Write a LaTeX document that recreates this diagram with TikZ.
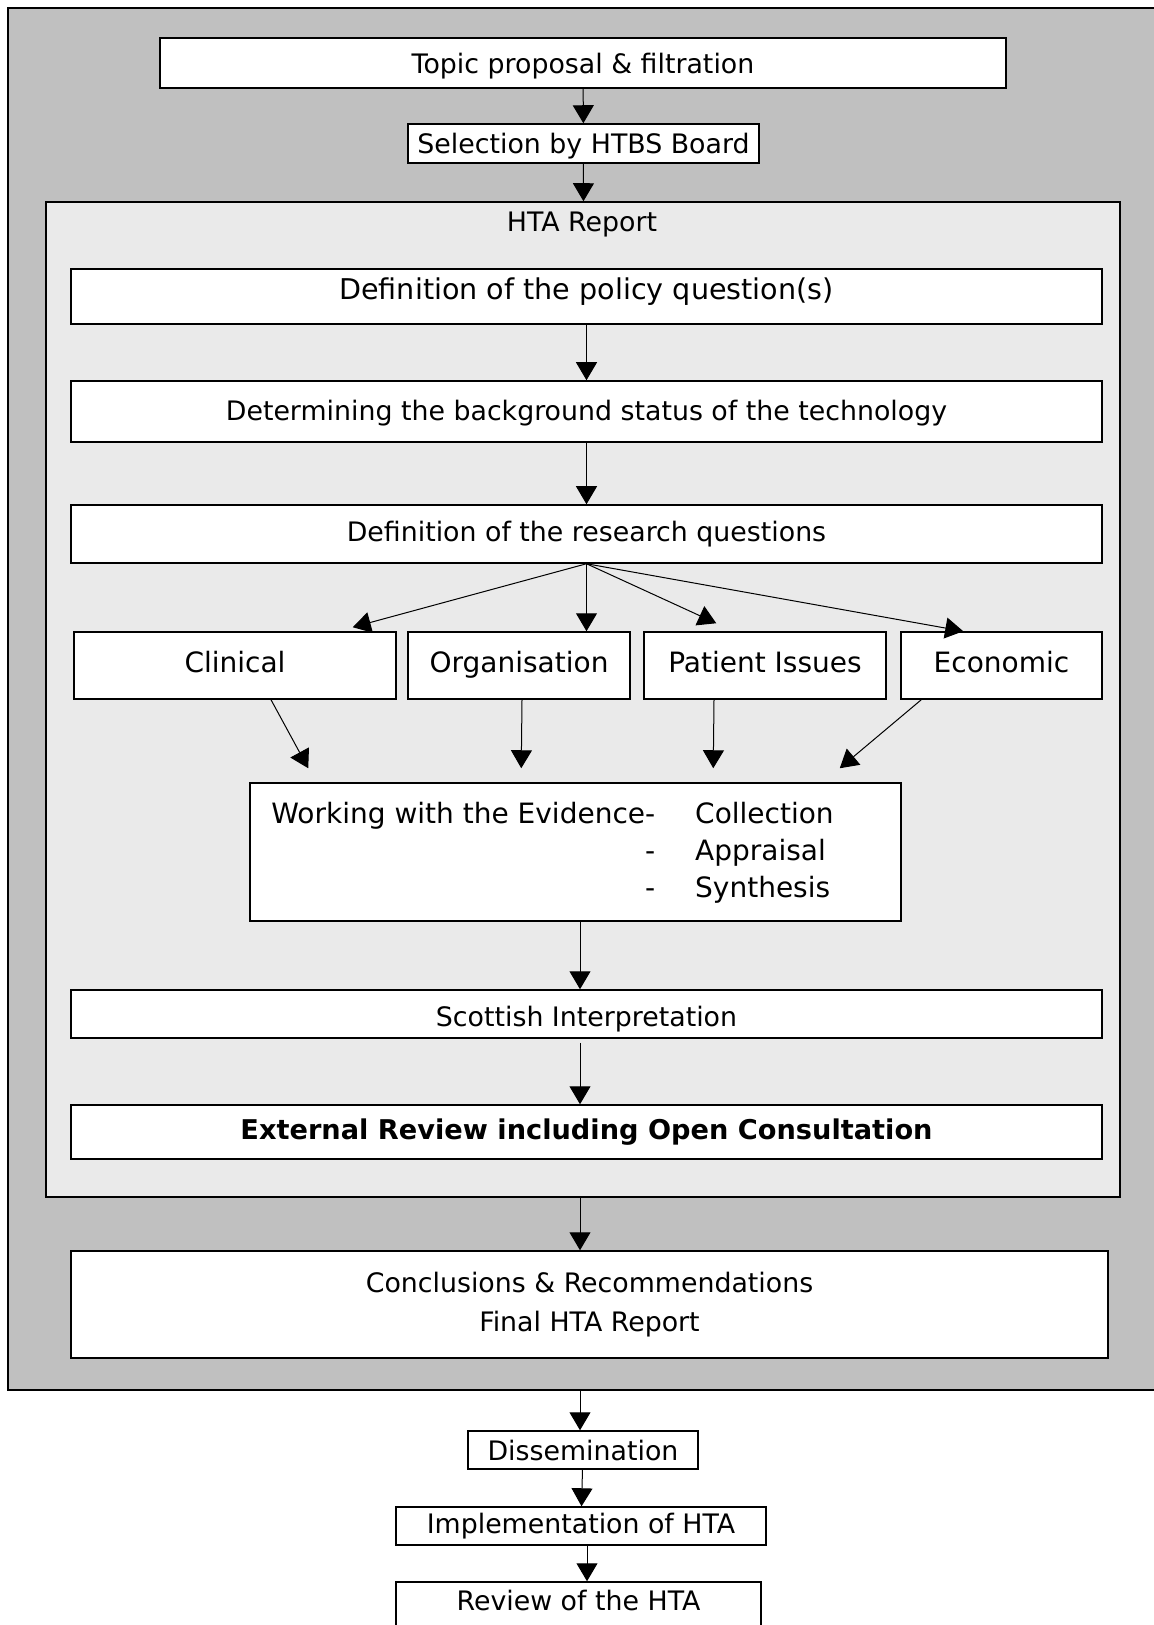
\documentclass[tikz,border=0pt]{standalone}
\usepackage{fontspec}
\setmainfont{DejaVu Sans}
\usetikzlibrary{arrows.meta}
\definecolor{framegrey}{RGB}{192,192,192}
\definecolor{reportgrey}{RGB}{234,234,234}

\begin{document}
\begin{tikzpicture}[x=0.5pt, y=-0.5pt,
    box/.style={draw, fill=white, line width=0.75pt, inner sep=0pt, font=\fontsize{13.4}{16}\selectfont},
    rowbox/.style={box, minimum height=33.5pt, text height=10pt, text depth=3pt, font=\fontsize{14}{17}\selectfont},
    flow/.style={-{Triangle[length=9pt,width=10.5pt]}, line width=0.5pt}]
  \useasboundingbox (0,0) rectangle (1154,1625);
  \clip (0,0) rectangle (1154,1625);
  % grey frame (runs off the right edge) and report panel
  \node[draw, fill=framegrey, line width=0.75pt, minimum width=621pt, minimum height=691pt] (frame) at (629,699) {};
  \node[box, minimum width=423pt, minimum height=25pt, text depth=0pt] (topic) at (583,63) {Topic proposal \& filtration};
  \node[box, minimum width=175.5pt, minimum height=19.5pt, text depth=0pt] (select) at (583.5,143.5) {Selection by HTBS Board};
  \node[draw, fill=reportgrey, line width=0.75pt, minimum width=537pt, minimum height=497.5pt] (hta) at (583,699.5) {};
  \node[anchor=base, font=\fontsize{13.4}{16}\selectfont] (htaTitle) at (582,232) {HTA Report};
  \node[box, minimum width=515.5pt, minimum height=27.5pt, text depth=8pt, font=\fontsize{14.3}{17}\selectfont] (policy) at (586.5,296.5) {Definition of the policy question(s)};
  \node[box, minimum width=515.5pt, minimum height=30.5pt, text depth=1.5pt] (backgr) at (586.5,411.5) {Determining the background status of the technology};
  \node[box, minimum width=515.5pt, minimum height=29pt] (research) at (586.5,534) {Definition of the research questions};
  % the four strands
  \node[rowbox, minimum width=161pt] (clinical) at (235,665.5) {Clinical};
  \node[rowbox, minimum width=111pt] (organ) at (519,665.5) {Organisation};
  \node[rowbox, minimum width=121pt] (patient) at (765,665.5) {Patient Issues};
  \node[rowbox, minimum width=100.5pt] (econ) at (1001.5,665.5) {Economic};
  \node[box, minimum width=325.5pt, minimum height=69pt] (work) at (575.5,852) {};
  \node[anchor=base west, inner sep=0pt, font=\fontsize{14}{18.5}\selectfont] (workTxt) at (271,823)
    {\begin{tabular}[t]{@{}r@{\hspace{20pt}}l@{}}Working with the Evidence- & Collection\\ - & Appraisal\\ - & Synthesis\end{tabular}};
  \node[box, minimum width=515.5pt, minimum height=24pt, text height=12pt, text depth=0pt] (scot) at (586.5,1014) {Scottish Interpretation};
  \node[box, minimum width=515.5pt, minimum height=27pt, font=\fontsize{13.6}{16}\selectfont\bfseries] (ext) at (586.5,1132) {External Review including Open Consultation};
  \node[box, minimum width=518.5pt, minimum height=53.5pt, align=center, font=\fontsize{13.4}{19.5}\selectfont, yshift=1.5pt] (concl) at (589.5,1307.5) {Conclusions \& Recommendations\\Final HTA Report};
  % after the report
  \node[box, minimum width=115pt, minimum height=19pt] (dissem) at (583,1450) {Dissemination};
  \node[box, minimum width=185pt, minimum height=19pt] (impl) at (581,1526) {Implementation of HTA};
  \node[box, minimum width=182.5pt, minimum height=25pt, text depth=7pt] (review) at (578.5,1607) {Review of the HTA};

  \draw[flow] (topic) -- (select);
  \draw[flow] (select) -- (hta);
  \draw[flow] (policy) -- (backgr);
  \draw[flow] (backgr) -- (research);
  \draw[flow] (research.south) -- ([xshift=-22pt,yshift=2pt]clinical.north east);
  \draw[flow] (research.south) coordinate (rs) -- (rs |- organ.north);
  \draw[flow] (research.south) -- ([xshift=36.5pt,yshift=4pt]patient.north west);
  \draw[flow] (research.south) -- ([xshift=31.5pt]econ.north west);
  \draw[flow] ([xshift=18pt]clinical.south) -- ([shift={(29.5pt,7pt)}]work.north west);
  \draw[flow] ([xshift=1.5pt]organ.south) -- ([shift={(136pt,7pt)}]work.north west);
  \draw[flow] ([xshift=-25.5pt]patient.south) -- ([shift={(232pt,7pt)}]work.north west);
  \draw[flow] ([xshift=10.5pt]econ.south west) -- ([shift={(-31pt,7pt)}]work.north east);
  \draw[flow] ([xshift=2.25pt]work.south) coordinate (ws) -- (ws |- scot.north);
  \draw[flow] ([xshift=-3.25pt,yshift=-2pt]scot.south) coordinate (ss) -- (ss |- ext.north);
  \draw[flow] ([xshift=-1.5pt]hta.south) coordinate (hs) -- (hs |- concl.north);
  \coordinate (dn) at ([xshift=-1.5pt]dissem.north);
  \draw[flow] (dn |- frame.south) -- (dn);
  \draw[flow] (dissem) -- (impl);
  \draw[flow] ([xshift=3pt]impl.south) coordinate (is) -- (is |- review.north);
\end{tikzpicture}
\end{document}
